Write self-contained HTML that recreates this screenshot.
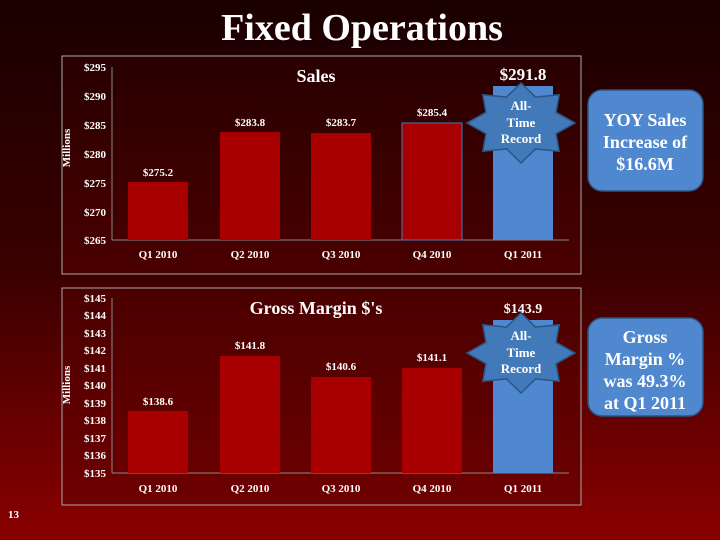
<!DOCTYPE html>
<html><head><style>body{margin:0;width:720px;height:540px;overflow:hidden}</style></head><body>
<svg width="720" height="540" xmlns="http://www.w3.org/2000/svg" font-family="Liberation Serif, serif" font-weight="bold">
<defs>
<linearGradient id="bg" x1="0" y1="0" x2="0" y2="1"><stop offset="0" stop-color="#1a0000"/><stop offset="0.5" stop-color="#3a0000"/><stop offset="1" stop-color="#8a0000"/></linearGradient>
<linearGradient id="p1" x1="0" y1="0" x2="0" y2="1"><stop offset="0" stop-color="#280000"/><stop offset="1" stop-color="#4a0000"/></linearGradient>
<linearGradient id="p2" x1="0" y1="0" x2="0" y2="1"><stop offset="0" stop-color="#4a0000"/><stop offset="1" stop-color="#6e0000"/></linearGradient>
<polygon id="star" points="0,-40 14.5,-25.9 38.2,-28.3 35.1,-10.7 54,0 35.1,10.7 38.2,28.3 14.5,25.9 0,40 -14.5,25.9 -38.2,28.3 -35.1,10.7 -54,0 -35.1,-10.7 -38.2,-28.3 -14.5,-25.9" fill="#4279b8" stroke="#2a5585" stroke-width="1.5"/>
</defs>
<rect width="720" height="540" fill="url(#bg)"/>
<text x="362" y="40" text-anchor="middle" font-size="38" fill="#fff">Fixed Operations</text>
<text x="8" y="518" font-size="11" fill="#fff">13</text>

<rect x="62" y="56" width="519" height="218" fill="url(#p1)" stroke="#aaa" stroke-width="1"/>
<g font-size="11" fill="#fff" text-anchor="end">
<text x="106" y="71">$295</text><text x="106" y="100">$290</text><text x="106" y="129">$285</text><text x="106" y="158">$280</text><text x="106" y="187">$275</text><text x="106" y="216">$270</text><text x="106" y="244">$265</text>
</g>
<text transform="translate(70,148) rotate(-90)" font-size="11" fill="#fff" text-anchor="middle">Millions</text>
<line x1="112" y1="67" x2="112" y2="240" stroke="#888"/>
<line x1="112" y1="240" x2="569" y2="240" stroke="#888"/>
<rect x="128" y="182" width="60" height="58" fill="#a80000"/>
<rect x="220" y="132" width="60" height="108" fill="#a80000"/>
<rect x="311" y="133" width="60" height="107" fill="#a80000"/>
<rect x="402" y="123" width="60" height="117" fill="#a80000" stroke="#4a7ab8"/>
<rect x="493" y="86" width="60" height="154" fill="#4f88cf"/>
<g font-size="11" fill="#fff" text-anchor="middle">
<text x="158" y="176">$275.2</text><text x="250" y="126">$283.8</text><text x="341" y="126">$283.7</text><text x="432" y="116">$285.4</text>
<text x="158" y="258">Q1 2010</text><text x="250" y="258">Q2 2010</text><text x="341" y="258">Q3 2010</text><text x="432" y="258">Q4 2010</text><text x="523" y="258">Q1 2011</text>
</g>
<text x="316" y="82" font-size="18" fill="#fff" text-anchor="middle">Sales</text>
<text x="523" y="80" font-size="17" fill="#fff" text-anchor="middle">$291.8</text>
<use href="#star" x="521" y="123"/>
<g font-size="13" fill="#fff" text-anchor="middle"><text x="521" y="110">All-</text><text x="521" y="127">Time</text><text x="521" y="143">Record</text></g>

<rect x="62" y="288" width="519" height="217" fill="url(#p2)" stroke="#aaa" stroke-width="1"/>
<g font-size="11" fill="#fff" text-anchor="end">
<text x="106" y="302">$145</text><text x="106" y="319">$144</text><text x="106" y="337">$143</text><text x="106" y="354">$142</text><text x="106" y="372">$141</text><text x="106" y="389">$140</text><text x="106" y="407">$139</text><text x="106" y="424">$138</text><text x="106" y="442">$137</text><text x="106" y="459">$136</text><text x="106" y="477">$135</text>
</g>
<text transform="translate(70,385) rotate(-90)" font-size="11" fill="#fff" text-anchor="middle">Millions</text>
<line x1="112" y1="298" x2="112" y2="473" stroke="#888"/>
<line x1="112" y1="473" x2="569" y2="473" stroke="#888"/>
<rect x="128" y="411" width="60" height="62" fill="#a80000"/>
<rect x="220" y="356" width="60" height="117" fill="#a80000"/>
<rect x="311" y="377" width="60" height="96" fill="#a80000"/>
<rect x="402" y="368" width="60" height="105" fill="#a80000"/>
<rect x="493" y="320" width="60" height="153" fill="#4f88cf"/>
<g font-size="11" fill="#fff" text-anchor="middle">
<text x="158" y="405">$138.6</text><text x="250" y="349">$141.8</text><text x="341" y="370">$140.6</text><text x="432" y="361">$141.1</text>
<text x="158" y="492">Q1 2010</text><text x="250" y="492">Q2 2010</text><text x="341" y="492">Q3 2010</text><text x="432" y="492">Q4 2010</text><text x="523" y="492">Q1 2011</text>
</g>
<text x="316" y="314" font-size="18" fill="#fff" text-anchor="middle">Gross Margin $'s</text>
<text x="523" y="313" font-size="14" fill="#fff" text-anchor="middle">$143.9</text>
<use href="#star" x="521" y="353"/>
<g font-size="13" fill="#fff" text-anchor="middle"><text x="521" y="340">All-</text><text x="521" y="357">Time</text><text x="521" y="373">Record</text></g>

<rect x="588" y="90" width="115" height="101" rx="14" fill="#4f88cf" stroke="#2a5585" stroke-width="1.5"/>
<g font-size="18" fill="#fff" text-anchor="middle"><text x="645" y="126">YOY Sales</text><text x="645" y="148">Increase of</text><text x="645" y="170">$16.6M</text></g>
<rect x="588" y="318" width="115" height="98" rx="14" fill="#4f88cf" stroke="#2a5585" stroke-width="1.5"/>
<g font-size="18" fill="#fff" text-anchor="middle"><text x="645" y="343">Gross</text><text x="645" y="365">Margin %</text><text x="645" y="387">was 49.3%</text><text x="645" y="409">at Q1 2011</text></g>
</svg>
</body></html>
